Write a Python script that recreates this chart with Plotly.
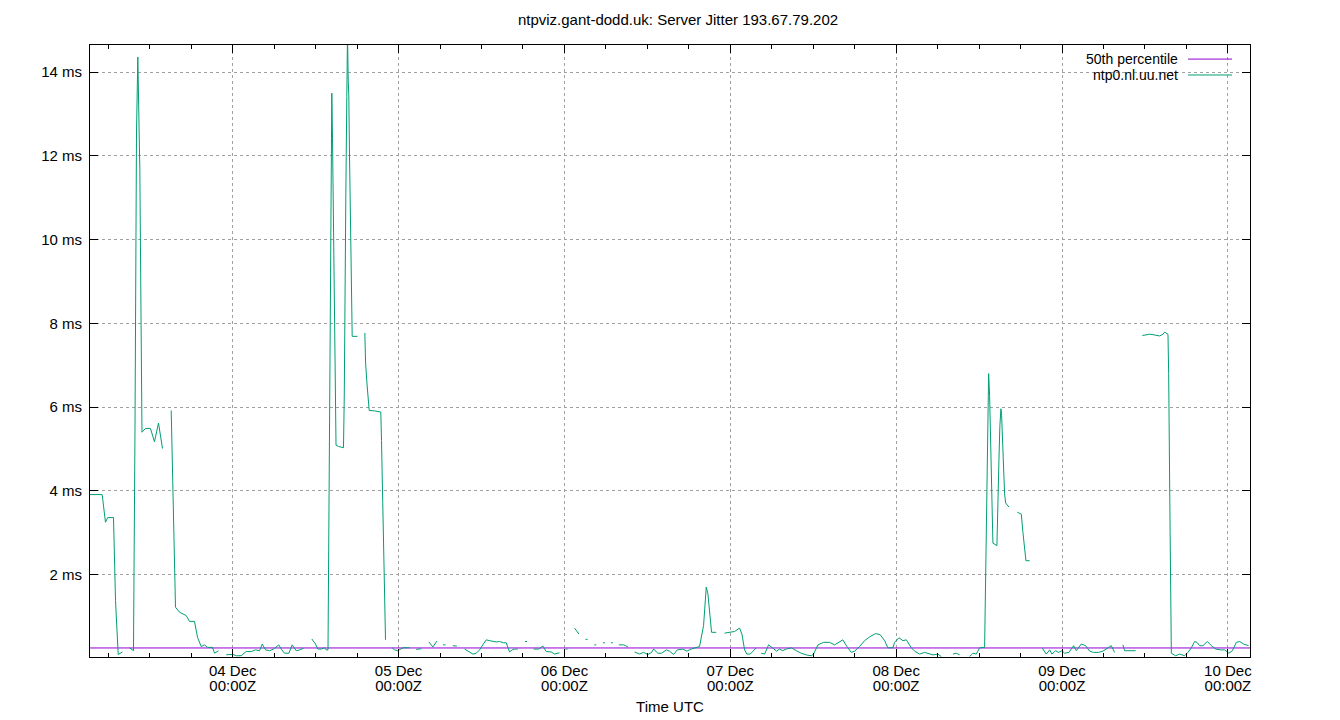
import datetime as dt
import plotly.graph_objects as go

# samples as hours relative to 04 Dec 00:00Z, None marks a gap in the log
base_time = dt.datetime(2023, 12, 4)

hours = [
    -20.65, -18.89, -18.41, -18.08, -17.25, -16.96, -16.57, -15.95, None,
    -14.93, -14.36, -14.14, -13.92, -13.73, -13.63, -13.44, -13.13, -12.62, -11.90, -11.32, -10.74, -10.16, None,
    -8.90, -8.71, -8.42, -8.28, -7.70, -6.73, -6.25, -5.53, -5.09, -4.56, -4.08, -3.65, -2.92, -2.63, -2.05, None,
    -0.94, 0.01, 0.55, 1.23, 1.95, 2.68, 3.30, 3.88, 4.27, 4.75, 5.33, 5.90, 6.67, 7.02, 7.50, 8.12, 8.61, 9.19, 9.67, 10.25, None,
    11.45, 11.98, 12.32, 12.81, 13.29, 13.53, 13.79, 13.86, 13.97, 14.05, 14.20, 14.34, 14.44, 14.59, 14.73, 14.88,
    14.95, 15.31, 16.03, 16.14, 16.22, 16.37, 16.51, 16.61, 16.72, 16.80, 16.90, 17.05, 17.19, 17.29, 18.06, None,
    19.12, 19.22, 19.41, 19.61, 19.75, 20.52, 21.43, 21.53, 21.82, 21.97, 22.11, None,
    23.08, 23.42, 23.89, 24.24, 24.62, 25.59, None,
    26.56, 27.28, None,
    28.38, 28.96, 29.54, None,
    30.43, 30.80, None,
    31.85, 32.43, None,
    33.55, 34.27, 34.75, 35.24, 35.72, 36.19, 36.69, 37.16, 37.64, 38.13, 38.61, 39.19, 39.58, 39.77, 40.06, 40.45, 40.78, 41.26, None,
    42.30, 42.59, None,
    43.53, 44.30, 44.65, 44.88, 45.37, 46.09, 46.57, 47.05, 47.29, None,
    48.16, 48.45, None,
    49.46, 49.75, 50.09, None,
    51.06, 51.35, None,
    52.32, 52.61, None,
    53.56, 53.85, None,
    54.72, 55.01, None,
    55.88, 56.56, 56.85, 57.18, None,
    58.15, 58.87, 59.45, 60.07, 60.61, 60.90, 61.52, 62.05, 62.74, 63.21, 63.79, 64.33, 65.14, 65.72, 66.35, 66.83,
    67.55, 68.13, 68.52, 68.76, 69.00, 69.29, 69.97, None,
    71.17, 71.80, 72.62, 73.34, 73.68, 74.07, 74.40, 74.89, 75.76, None,
    76.48, 76.96, 77.54, 78.16, 78.70, 79.13, 79.57, 80.10, 80.87, 81.55, 82.27, 83.00, 83.72, 84.05, 84.68,
    85.50, 86.37, 87.09, 87.81, 88.29, 88.87, 89.51, 89.99, 90.71, 91.43, 92.16, 93.02, 93.70, 94.33, 94.80,
    95.53, 95.77, 96.40, 96.98, 97.47, 98.19, 98.67, 99.39, 100.12, 100.74, 101.32, 102.04, 102.53, None,
    104.21, 104.70, 105.18, None,
    106.63, 107.11, 107.60, 108.08, 108.80, 108.87, 108.94, 109.13, 109.38, 109.52, 109.67, 109.86, 109.96,
    110.00, 110.58, 110.72, 110.87, 111.01, 111.16, 111.26, 111.40, 111.55, 111.69, 111.84, 112.32, None,
    113.53, 114.11, 114.34, 114.49, 114.73, 114.78, 115.31, None,
    117.15, 117.73, 118.21, 118.54, 119.07, 119.51, 119.99, 120.38, 121.00, 121.49, 121.68, 122.07, 122.79,
    123.42, 123.99, 124.57, 125.30, 125.92, 126.64, 127.13, 127.61, None,
    128.81, 129.06, 130.65, None,
    131.62, 132.43, 132.68, 133.16, 133.65, 134.12, 134.60, 134.85, 135.33, 135.43, 135.64, 135.82, 136.44,
    137.02, 137.74, 138.22, 138.71, 139.19, 139.52, 139.91, 140.39, 141.03, 141.61, 142.23, 142.95, 143.53,
    144.15, 144.65, 145.22, 145.70, 146.28, 147.00,
]

jitter_ms = [
    3.91, 3.91, 3.25, 3.36, 3.36, 1.38, 0.09, 0.15, None,
    0.25, 0.18, 5.47, 12.57, 14.36, 13.46, 11.66, 5.40, 5.49, 5.49, 5.17, 5.62, 5.01, None,
    5.92, 4.57, 1.86, 1.22, 1.10, 1.02, 0.88, 0.88, 0.50, 0.28, 0.32, 0.26, 0.26, 0.12, 0.18, None,
    0.085, 0.09, 0.06, 0.06, 0.16, 0.16, 0.20, 0.18, 0.34, 0.20, 0.18, 0.22, 0.32, 0.22, 0.12, 0.12, 0.32, 0.18, 0.20, 0.24, None,
    0.46, 0.34, 0.22, 0.22, 0.25, 0.20, 0.20, 1.90, 5.20, 8.51, 11.83, 13.50, 12.42, 10.35, 8.24, 6.12,
    5.09, 5.06, 5.03, 6.24, 8.64, 11.07, 13.42, 14.90, 13.78, 13.46, 12.02, 10.31, 8.55, 7.69, 7.69, None,
    7.77, 7.08, 6.60, 6.12, 5.92, 5.91, 5.88, 5.20, 2.50, 1.14, 0.44, None,
    0.25, 0.20, 0.18, 0.22, 0.25, 0.25, None,
    0.21, 0.23, None,
    0.39, 0.27, 0.41, None,
    0.32, 0.32, None,
    0.30, 0.29, None,
    0.22, 0.14, 0.10, 0.12, 0.20, 0.32, 0.44, 0.42, 0.40, 0.39, 0.40, 0.37, 0.37, 0.27, 0.15, 0.20, 0.22, 0.22, None,
    0.40, 0.40, None,
    0.22, 0.22, 0.27, 0.29, 0.16, 0.15, 0.10, 0.12, 0.13, None,
    0.22, 0.22, None,
    0.72, 0.66, 0.58, None,
    0.45, 0.45, None,
    0.32, 0.32, None,
    0.37, 0.37, None,
    0.37, 0.37, None,
    0.32, 0.32, 0.30, 0.27, None,
    0.15, 0.10, 0.14, 0.09, 0.14, 0.22, 0.12, 0.12, 0.20, 0.17, 0.09, 0.20, 0.22, 0.17, 0.22, 0.25,
    0.28, 0.78, 1.70, 1.54, 1.14, 0.62, 0.62, None,
    0.60, 0.62, 0.64, 0.72, 0.58, 0.20, 0.10, 0.10, 0.25, None,
    0.12, 0.10, 0.32, 0.25, 0.17, 0.22, 0.18, 0.22, 0.25, 0.18, 0.12, 0.08, 0.06, 0.10, 0.32,
    0.38, 0.38, 0.32, 0.38, 0.44, 0.28, 0.14, 0.17, 0.28, 0.42, 0.51, 0.59, 0.56, 0.42, 0.25,
    0.25, 0.38, 0.49, 0.42, 0.44, 0.25, 0.17, 0.10, 0.14, 0.10, 0.08, 0.10, 0.04, None,
    0.10, 0.12, 0.08, None,
    0.04, 0.12, 0.10, 0.25, 0.26, 1.10, 2.74, 4.33, 6.80, 6.28, 5.28, 4.30, 3.25,
    2.75, 2.69, 4.00, 4.73, 5.56, 5.96, 5.80, 5.17, 4.49, 3.93, 3.71, 3.61, None,
    3.49, 3.44, 3.01, 2.73, 2.45, 2.33, 2.33, None,
    0.24, 0.10, 0.20, 0.10, 0.18, 0.14, 0.18, 0.12, 0.14, 0.25, 0.30, 0.18, 0.34,
    0.30, 0.17, 0.14, 0.14, 0.17, 0.25, 0.30, 0.14, None,
    0.32, 0.18, 0.18, None,
    7.71, 7.73, 7.74, 7.73, 7.72, 7.70, 7.74, 7.79, 7.74, 6.80, 3.00, 0.12, 0.06,
    0.10, 0.06, 0.14, 0.25, 0.40, 0.38, 0.30, 0.30, 0.40, 0.30, 0.22, 0.20, 0.20,
    0.12, 0.18, 0.38, 0.40, 0.34, 0.30,
]

p50_ms = 0.246
x_span_hours = [-20.65, 147.2]
y_span_ms = [0.03, 14.65]

assert len(hours) == len(jitter_ms)

times = [None if h is None else base_time + dt.timedelta(hours=h) for h in hours]
t_start, t_end = [base_time + dt.timedelta(hours=h) for h in x_span_hours]

purple = "#9400d3"
green = "#009e73"
font = "Liberation Sans, Arial, sans-serif"
fsize = 15

fig = go.Figure()
fig.add_trace(go.Scatter(x=[t_start, t_end], y=[p50_ms, p50_ms], mode="lines",
                         line=dict(color=purple, width=1), name="50th percentile"))
# server trace sits on overlaid axes, which also draws it above the percentile line
fig.add_trace(go.Scatter(x=times, y=jitter_ms, mode="lines", connectgaps=False,
                         xaxis="x2", yaxis="y2",
                         line=dict(color=green, width=1), name="ntp0.nl.uu.net"))

axis_common = dict(
    showline=True, linecolor="black", linewidth=1, mirror="allticks",
    ticks="inside", tickcolor="black", ticklen=8,
    showgrid=True, gridcolor="#a0a0a0", griddash="dot", gridwidth=1,
    zeroline=False, automargin=False,
)

# day label on the main axis, the time line of the label on an overlaid axis
fig.update_layout(
    xaxis=dict(
        type="date", range=[t_start, t_end], dtick=86400000, tick0=base_time,
        tickformat="%d %b",
        minor=dict(dtick=6 * 3600000, ticks="inside", ticklen=4, tickcolor="black", showgrid=False),
        **axis_common,
    ),
    yaxis=dict(
        range=y_span_ms, dtick=2, tick0=0, ticksuffix=" ms", ticklabelstandoff=4,
        **axis_common,
    ),
    xaxis2=dict(
        overlaying="x", anchor="y2", side="bottom", type="date", range=[t_start, t_end],
        dtick=86400000, tick0=base_time, tickformat="%H:%MZ",
        showgrid=False, showline=False, ticks="", zeroline=False, automargin=False,
        ticklabelstandoff=18,
        title=dict(text="Time UTC", standoff=8, font=dict(family=font, size=fsize, color="black")),
    ),
    yaxis2=dict(
        overlaying="y", anchor="x2", range=y_span_ms,
        showgrid=False, showline=False, ticks="", showticklabels=False,
        zeroline=False, automargin=False,
    ),
)

# gnuplot-style key: right-aligned labels with the sample line after the text
fig.add_shape(type="rect", xref="paper", yref="paper", x0=0.823, x1=0.991, y0=0.937, y1=0.998,
              fillcolor="white", line=dict(width=0), layer="between")
for label, color, yk in [("50th percentile", purple, 0.977), ("ntp0.nl.uu.net", green, 0.951)]:
    fig.add_annotation(text=label, xref="paper", yref="paper", x=0.94, y=yk,
                       xanchor="right", yanchor="middle", showarrow=False,
                       font=dict(family=font, size=fsize - 1, color="black"))
    fig.add_shape(type="line", xref="paper", yref="paper", x0=0.9466, x1=0.9845, y0=yk, y1=yk,
                  line=dict(color=color, width=1))

# the page body adds an 8px offset, so margins are shifted to compensate
fig.update_layout(
    width=1340, height=720,
    margin=dict(l=82, r=98, t=37, b=71, autoexpand=False),
    title=dict(text="ntpviz.gant-dodd.uk: Server Jitter 193.67.79.202", x=0.5, xanchor="center",
               y=0.9833, yanchor="middle", font=dict(size=fsize)),
    font=dict(family=font, size=fsize, color="black"),
    plot_bgcolor="white", paper_bgcolor="white",
    showlegend=False,
)

fig.write_html("out.html")
